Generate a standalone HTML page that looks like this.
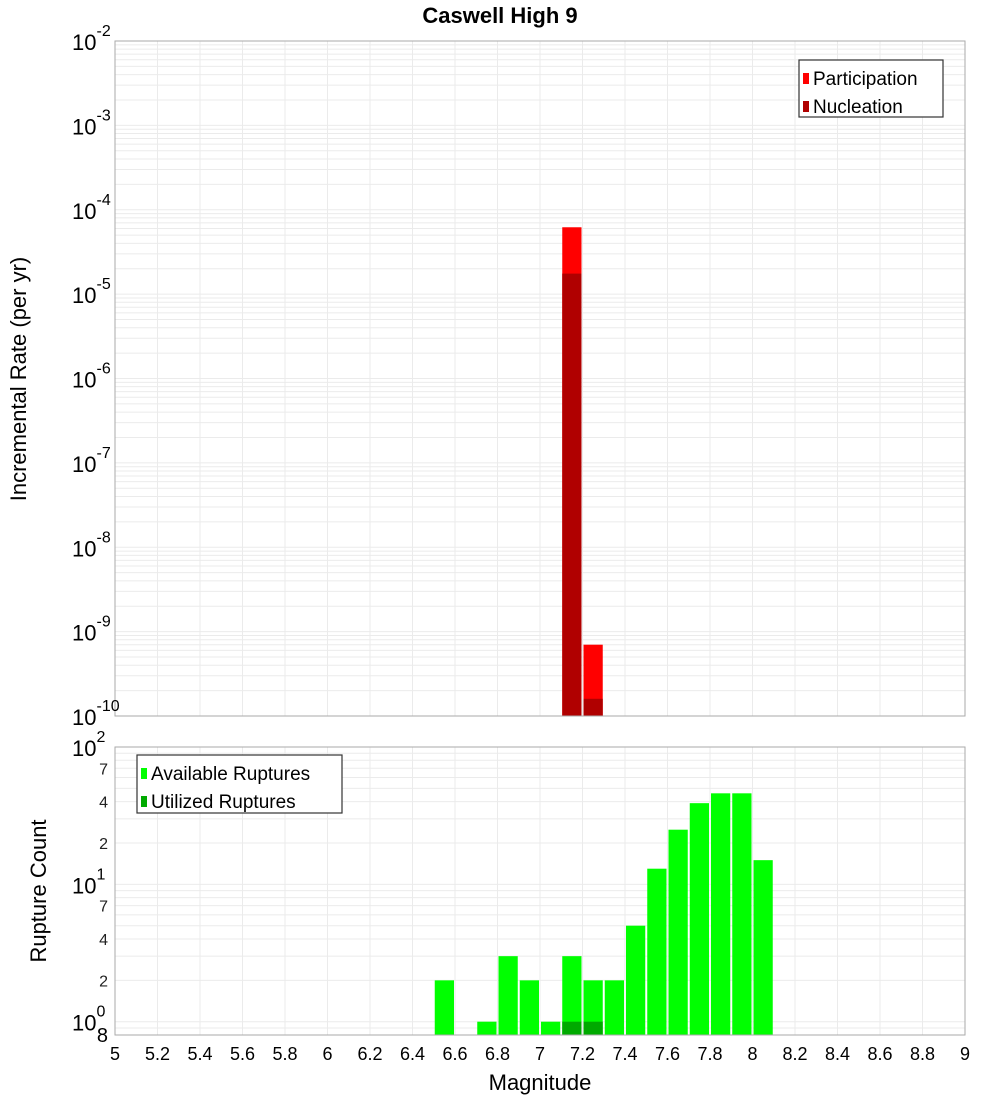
<!DOCTYPE html>
<html><head><meta charset="utf-8"><style>
html,body{margin:0;padding:0;background:#fff;}
svg{display:block;font-family:"Liberation Sans","DejaVu Sans",sans-serif;}
</style></head><body>
<svg id="c" width="1000" height="1100" xmlns="http://www.w3.org/2000/svg"></svg>
<script>
const binStarts=[7.1,7.2];
const participation=[6.2e-5,7e-10];
const nucleation=[1.75e-5,1.6e-10];
const countBins=[6.5,6.7,6.8,6.9,7.0,7.1,7.2,7.3,7.4,7.5,7.6,7.7,7.8,7.9,8.0];
const available=[2,1,3,2,1,3,2,2,5,13,25,39,46,46,15];
const utilizedBins=[7.1,7.2];
const utilized=[1,1];
const xTicks=[5,5.2,5.4,5.6,5.8,6,6.2,6.4,6.6,6.8,7,7.2,7.4,7.6,7.8,8,8.2,8.4,8.6,8.8,9];
const topExps=[-2,-3,-4,-5,-6,-7,-8,-9,-10];
const botMinor=[2,4,7,20,40,70];

const NS="http://www.w3.org/2000/svg";
const svg=document.getElementById('c');
function el(t,a,p){const e=document.createElementNS(NS,t);for(const k in a)e.setAttribute(k,a[k]);(p||svg).appendChild(e);return e;}
const L=115,R=965;
const X=v=>L+(v-5)/4*(R-L);
const T0=41,T1=716;
const YT=v=>T1-(Math.log10(v)+10)/8*(T1-T0);
const B0=747,B1=1035,bMin=Math.log10(0.8),bMax=2;
const YB=v=>B1-(Math.log10(v)-bMin)/(bMax-bMin)*(B1-B0);

// title
let t=el('text',{x:500,y:23,'text-anchor':'middle','font-size':22,'font-weight':'bold'});t.textContent='Caswell High 9';



// top grid
const g1=el('g',{});


for(let e=-10;e<-2;e++)for(let m=1;m<10;m++){const y=YT(m*Math.pow(10,e));el('line',{x1:L,x2:R,y1:y,y2:y,stroke:'#ebebeb','stroke-width':1},g1);}
xTicks.forEach(v=>{el('line',{x1:X(v),x2:X(v),y1:T0,y2:T1,stroke:'#ebebeb'},g1);});
// bottom grid
const g2=el('g',{});


for(let e=-1;e<2;e++)for(let m=1;m<10;m++){const v=m*Math.pow(10,e);if(v<0.8)continue;const y=YB(v);el('line',{x1:L,x2:R,y1:y,y2:y,stroke:'#ebebeb'},g2);}
xTicks.forEach(v=>{el('line',{x1:X(v),x2:X(v),y1:B0,y2:B1,stroke:'#ebebeb'},g2);});

// top bars
binStarts.forEach((b,i)=>{
 let r=el('rect',{x:X(b)+1,y:YT(participation[i]),width:X(b+0.1)-X(b)-2,height:T1-YT(participation[i]),fill:'#ff0000'});
 
 
 r=el('rect',{x:X(b)+1,y:YT(nucleation[i]),width:X(b+0.1)-X(b)-2,height:T1-YT(nucleation[i]),fill:'#b00000'});
 
 
});
// bottom bars
countBins.forEach((b,i)=>{
 const r=el('rect',{x:X(b)+1,y:YB(available[i]),width:X(b+0.1)-X(b)-2,height:B1-YB(available[i]),fill:'#00ff00'});
 
 
});
utilizedBins.forEach((b,i)=>{
 const r=el('rect',{x:X(b)+1,y:YB(utilized[i]),width:X(b+0.1)-X(b)-2,height:B1-YB(utilized[i]),fill:'#00aa00'});
 
 
});

// frames
let f=el('rect',{x:L,y:T0,width:R-L,height:T1-T0,fill:'none',stroke:'#aaa'});


f=el('rect',{x:L,y:B0,width:R-L,height:B1-B0,fill:'none',stroke:'#aaa'});



// top y ticks
topExps.forEach(e=>{
 const y=YT(Math.pow(10,e));
 const tx=el('text',{x:72,y:y+9,'font-size':22});
 
 
 tx.textContent='10';
 const s=el('tspan',{dy:-14,'font-size':16},tx);s.textContent=String(e);
});
// bottom y ticks
[[100,'2'],[10,'1'],[1,'0']].forEach(([v,e])=>{
 const y=YB(v);
 const tx=el('text',{x:72,y:y+9,'font-size':22});
 
 
 tx.textContent='10';
 const s=el('tspan',{dy:-14,'font-size':16},tx);s.textContent=e;
});
botMinor.forEach(v=>{
 const tx=el('text',{x:108,y:YB(v)+6,'font-size':16,'text-anchor':'end',fill:'#222'});
 
 
 tx.textContent=String(v).charAt(0);
});
let e8=el('text',{x:108,y:1042,'font-size':20,'text-anchor':'end'});e8.textContent='8';



// x ticks
xTicks.forEach(v=>{
 const tx=el('text',{x:X(v),y:1060,'font-size':18,'text-anchor':'middle'});
 
 
 tx.textContent=String(v);
});
let xt=el('text',{x:540,y:1090,'font-size':22,'text-anchor':'middle'});xt.textContent='Magnitude';


let y1=el('text',{x:0,y:0,'font-size':22,'text-anchor':'middle',transform:'translate(26,379) rotate(-90)'});y1.textContent='Incremental Rate (per yr)';


let y2=el('text',{x:0,y:0,'font-size':22,'text-anchor':'middle',transform:'translate(46,891) rotate(-90)'});y2.textContent='Rupture Count';



// legends
function legend(x,y,w,h,items,name){
 const g=el('g',{});
 
 
 el('rect',{x:x,y:y,width:w,height:h,fill:'#fff',stroke:'#333','stroke-width':1.2},g);
 items.forEach(([c,l],i)=>{
  const yy=y+14+i*28;
  el('rect',{x:x+4,y:yy-1,width:6,height:11,fill:c},g);
  const tx=el('text',{x:x+14,y:yy+11,'font-size':19},g);tx.textContent=l;
  
  
 });
}
legend(799,60,144,57,[['#ff0000','Participation'],['#b00000','Nucleation']],'top-legend');
legend(137,755,205,58,[['#00ff00','Available Ruptures'],['#00aa00','Utilized Ruptures']],'bottom-legend');
</script>
</body></html>
